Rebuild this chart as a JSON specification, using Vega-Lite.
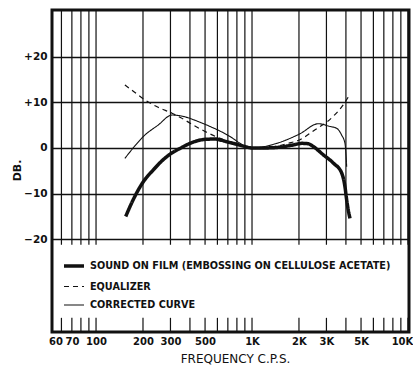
{
  "$schema": "https://vega.github.io/schema/vega-lite/v6.json",
  "width": 357,
  "height": 322,
  "autosize": {"type": "none"},
  "padding": {"left": 52, "top": 10, "right": 4, "bottom": 33},
  "background": "white",
  "config": {
    "view": {"stroke": "#111", "strokeWidth": 3},
    "font": "DejaVu Sans"
  },
  "datasets": {
    "grid": [
      {"f": 60}, {"f": 70}, {"f": 80}, {"f": 90}, {"f": 100},
      {"f": 200}, {"f": 300}, {"f": 400}, {"f": 500}, {"f": 600}, {"f": 700}, {"f": 800}, {"f": 900}, {"f": 1000},
      {"f": 2000}, {"f": 3000}, {"f": 4000}, {"f": 5000}, {"f": 6000}, {"f": 7000}, {"f": 8000}, {"f": 9000}, {"f": 10000}
    ],
    "curves": [
      {"f": 155, "db": -15, "series": "SOUND ON FILM (EMBOSSING ON CELLULOSE ACETATE)"},
      {"f": 175, "db": -11, "series": "SOUND ON FILM (EMBOSSING ON CELLULOSE ACETATE)"},
      {"f": 201, "db": -7.4, "series": "SOUND ON FILM (EMBOSSING ON CELLULOSE ACETATE)"},
      {"f": 233, "db": -4.8, "series": "SOUND ON FILM (EMBOSSING ON CELLULOSE ACETATE)"},
      {"f": 265, "db": -2.8, "series": "SOUND ON FILM (EMBOSSING ON CELLULOSE ACETATE)"},
      {"f": 300, "db": -1.3, "series": "SOUND ON FILM (EMBOSSING ON CELLULOSE ACETATE)"},
      {"f": 350, "db": 0.0, "series": "SOUND ON FILM (EMBOSSING ON CELLULOSE ACETATE)"},
      {"f": 400, "db": 1.0, "series": "SOUND ON FILM (EMBOSSING ON CELLULOSE ACETATE)"},
      {"f": 450, "db": 1.6, "series": "SOUND ON FILM (EMBOSSING ON CELLULOSE ACETATE)"},
      {"f": 512, "db": 1.9, "series": "SOUND ON FILM (EMBOSSING ON CELLULOSE ACETATE)"},
      {"f": 580, "db": 1.95, "series": "SOUND ON FILM (EMBOSSING ON CELLULOSE ACETATE)"},
      {"f": 624, "db": 1.75, "series": "SOUND ON FILM (EMBOSSING ON CELLULOSE ACETATE)"},
      {"f": 700, "db": 1.3, "series": "SOUND ON FILM (EMBOSSING ON CELLULOSE ACETATE)"},
      {"f": 759, "db": 1.0, "series": "SOUND ON FILM (EMBOSSING ON CELLULOSE ACETATE)"},
      {"f": 902, "db": 0.3, "series": "SOUND ON FILM (EMBOSSING ON CELLULOSE ACETATE)"},
      {"f": 1000, "db": 0, "series": "SOUND ON FILM (EMBOSSING ON CELLULOSE ACETATE)"},
      {"f": 1200, "db": 0, "series": "SOUND ON FILM (EMBOSSING ON CELLULOSE ACETATE)"},
      {"f": 1440, "db": 0.1, "series": "SOUND ON FILM (EMBOSSING ON CELLULOSE ACETATE)"},
      {"f": 1800, "db": 0.6, "series": "SOUND ON FILM (EMBOSSING ON CELLULOSE ACETATE)"},
      {"f": 2100, "db": 1.0, "series": "SOUND ON FILM (EMBOSSING ON CELLULOSE ACETATE)"},
      {"f": 2300, "db": 0.9, "series": "SOUND ON FILM (EMBOSSING ON CELLULOSE ACETATE)"},
      {"f": 2472, "db": 0.3, "series": "SOUND ON FILM (EMBOSSING ON CELLULOSE ACETATE)"},
      {"f": 2864, "db": -1.5, "series": "SOUND ON FILM (EMBOSSING ON CELLULOSE ACETATE)"},
      {"f": 3318, "db": -3.3, "series": "SOUND ON FILM (EMBOSSING ON CELLULOSE ACETATE)"},
      {"f": 3758, "db": -5.5, "series": "SOUND ON FILM (EMBOSSING ON CELLULOSE ACETATE)"},
      {"f": 3944, "db": -8.5, "series": "SOUND ON FILM (EMBOSSING ON CELLULOSE ACETATE)"},
      {"f": 4045, "db": -11.4, "series": "SOUND ON FILM (EMBOSSING ON CELLULOSE ACETATE)"},
      {"f": 4140, "db": -13.6, "series": "SOUND ON FILM (EMBOSSING ON CELLULOSE ACETATE)"},
      {"f": 4246, "db": -15.4, "series": "SOUND ON FILM (EMBOSSING ON CELLULOSE ACETATE)"},
      {"f": 153, "db": 13.8, "series": "EQUALIZER"},
      {"f": 175, "db": 12.3, "series": "EQUALIZER"},
      {"f": 206, "db": 10.5, "series": "EQUALIZER"},
      {"f": 250, "db": 8.9, "series": "EQUALIZER"},
      {"f": 307, "db": 7.6, "series": "EQUALIZER"},
      {"f": 350, "db": 6.6, "series": "EQUALIZER"},
      {"f": 421, "db": 5.0, "series": "EQUALIZER"},
      {"f": 500, "db": 3.6, "series": "EQUALIZER"},
      {"f": 624, "db": 2.1, "series": "EQUALIZER"},
      {"f": 750, "db": 1.1, "series": "EQUALIZER"},
      {"f": 880, "db": 0.3, "series": "EQUALIZER"},
      {"f": 1000, "db": 0, "series": "EQUALIZER"},
      {"f": 1200, "db": 0.1, "series": "EQUALIZER"},
      {"f": 1440, "db": 0.4, "series": "EQUALIZER"},
      {"f": 1700, "db": 1.0, "series": "EQUALIZER"},
      {"f": 2030, "db": 1.8, "series": "EQUALIZER"},
      {"f": 2400, "db": 3.4, "series": "EQUALIZER"},
      {"f": 2700, "db": 4.6, "series": "EQUALIZER"},
      {"f": 3000, "db": 5.6, "series": "EQUALIZER"},
      {"f": 3400, "db": 7.3, "series": "EQUALIZER"},
      {"f": 3800, "db": 9.2, "series": "EQUALIZER"},
      {"f": 4150, "db": 11.2, "series": "EQUALIZER"},
      {"f": 153, "db": -2.3, "series": "CORRECTED CURVE"},
      {"f": 175, "db": 0.2, "series": "CORRECTED CURVE"},
      {"f": 201, "db": 2.5, "series": "CORRECTED CURVE"},
      {"f": 250, "db": 5.0, "series": "CORRECTED CURVE"},
      {"f": 307, "db": 7.2, "series": "CORRECTED CURVE"},
      {"f": 363, "db": 6.9, "series": "CORRECTED CURVE"},
      {"f": 450, "db": 5.8, "series": "CORRECTED CURVE"},
      {"f": 538, "db": 4.7, "series": "CORRECTED CURVE"},
      {"f": 640, "db": 3.5, "series": "CORRECTED CURVE"},
      {"f": 723, "db": 2.5, "series": "CORRECTED CURVE"},
      {"f": 880, "db": 0.6, "series": "CORRECTED CURVE"},
      {"f": 1000, "db": 0, "series": "CORRECTED CURVE"},
      {"f": 1200, "db": 0.3, "series": "CORRECTED CURVE"},
      {"f": 1440, "db": 1.0, "series": "CORRECTED CURVE"},
      {"f": 2030, "db": 3.1, "series": "CORRECTED CURVE"},
      {"f": 2660, "db": 5.3, "series": "CORRECTED CURVE"},
      {"f": 3162, "db": 4.7, "series": "CORRECTED CURVE"},
      {"f": 3490, "db": 4.3, "series": "CORRECTED CURVE"},
      {"f": 3758, "db": 2.8, "series": "CORRECTED CURVE"},
      {"f": 3944, "db": 1.0, "series": "CORRECTED CURVE"},
      {"f": 4000, "db": -1.2, "series": "CORRECTED CURVE"},
      {"f": 4045, "db": -4.1, "series": "CORRECTED CURVE"}
    ]
  },
  "layer": [
    {
      "data": {"name": "grid"},
      "mark": {"type": "rule", "color": "#111", "strokeWidth": 1.2},
      "encoding": {
        "x": {
          "field": "f", "type": "quantitative",
          "scale": {"type": "log", "domain": [52.2, 10150], "nice": false},
          "axis": {
            "values": [60, 70, 100, 200, 300, 500, 1000, 2000, 3000, 5000, 10000],
            "labelExpr": "datum.value >= 1000 ? (datum.value / 1000) + 'K' : '' + datum.value",
            "grid": false, "ticks": false, "domain": false,
            "labelFont": "DejaVu Sans", "labelFontSize": 10, "labelFontWeight": "bold", "labelColor": "#111",
            "labelPadding": 4, "labelFlush": false, "labelOverlap": false,
            "labelOffset": {"condition": {"test": "datum.value == 60 || datum.value == 10000", "value": -6}, "value": 0},
            "title": "FREQUENCY C.P.S.",
            "titleFont": "DejaVu Sans", "titleFontSize": 12, "titleFontWeight": "normal", "titleColor": "#111",
            "titleX": 183, "titleY": 30, "titleBaseline": "alphabetic", "titleAnchor": "middle"
          }
        },
        "y": {
          "datum": 30.2, "type": "quantitative",
          "scale": {"domain": [-40.3, 30.2], "nice": false, "zero": false},
          "axis": {
            "values": [-20, -10, 0, 10, 20],
            "labelExpr": "datum.value > 0 ? '+' + datum.value : (datum.value < 0 ? '\u2212' + (-datum.value) : '0')",
            "grid": true, "gridColor": "#111", "gridWidth": 1.3, "gridOpacity": 1,
            "ticks": false, "domain": false,
            "labelFont": "DejaVu Sans", "labelFontSize": 10.5, "labelFontWeight": "bold", "labelColor": "#111",
            "labelPadding": 5,
            "title": "DB.",
            "titleFont": "DejaVu Sans", "titleFontSize": 11, "titleFontWeight": "bold", "titleColor": "#111",
            "titleAngle": 270, "titleX": -35, "titleY": 160, "titleBaseline": "middle", "titleAlign": "center"
          }
        },
        "y2": {"datum": -21.2}
      }
    },
    {
      "data": {"name": "grid"},
      "mark": {"type": "rule", "color": "#111", "strokeWidth": 1.2},
      "encoding": {
        "x": {"field": "f", "type": "quantitative"},
        "y": {"datum": -37.2, "type": "quantitative"},
        "y2": {"datum": -40.3}
      }
    },
    {
      "data": {"name": "curves"},
      "mark": {"type": "line", "interpolate": "monotone", "color": "#111"},
      "encoding": {
        "x": {"field": "f", "type": "quantitative"},
        "y": {"field": "db", "type": "quantitative"},
        "detail": {"field": "series"},
        "strokeWidth": {
          "field": "series", "type": "nominal",
          "scale": {
            "type": "ordinal",
            "domain": ["SOUND ON FILM (EMBOSSING ON CELLULOSE ACETATE)", "EQUALIZER", "CORRECTED CURVE"],
            "range": [3.5, 1.2, 1.1]
          },
          "legend": {
            "title": null, "orient": "none", "legendX": 10, "legendY": 244,
            "symbolType": "stroke", "symbolSize": 400, "symbolStrokeColor": "#111",
            "labelFont": "DejaVu Sans", "labelFontSize": 9.7, "labelFontWeight": "bold", "labelColor": "#111",
            "labelOffset": 4, "rowPadding": 2.5, "labelLimit": 400
          }
        },
        "strokeDash": {
          "field": "series", "type": "nominal",
          "scale": {
            "domain": ["SOUND ON FILM (EMBOSSING ON CELLULOSE ACETATE)", "EQUALIZER", "CORRECTED CURVE"],
            "range": [[1, 0], [5, 4], [1, 0]]
          },
          "legend": {
            "title": null, "orient": "none", "legendX": 10, "legendY": 244,
            "symbolType": "stroke", "symbolSize": 400, "symbolStrokeColor": "#111",
            "labelFont": "DejaVu Sans", "labelFontSize": 9.7, "labelFontWeight": "bold", "labelColor": "#111",
            "labelOffset": 4, "rowPadding": 2.5, "labelLimit": 400
          }
        }
      }
    }
  ]
}
